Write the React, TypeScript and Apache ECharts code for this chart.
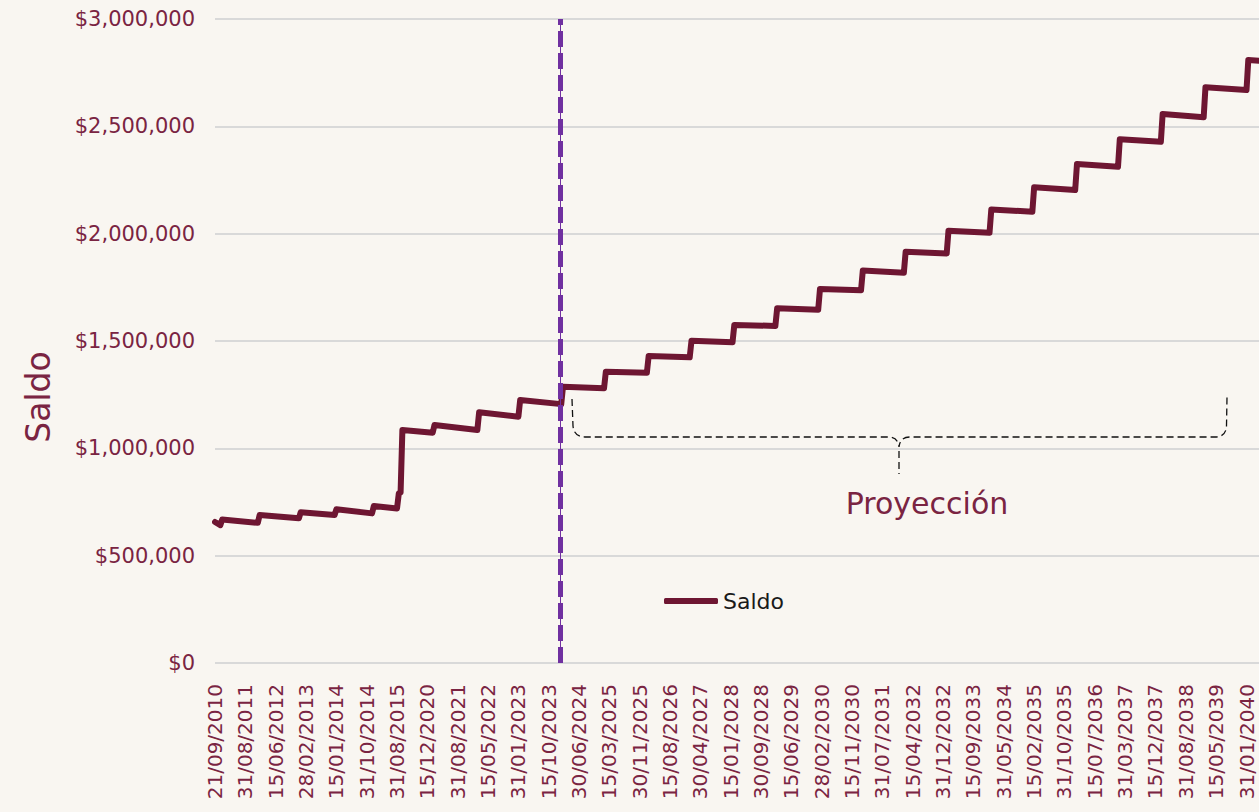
import React, { useEffect, useRef } from "react";
import * as echarts from "echarts";

// X tick labels (one every 17 data positions)
const tickLabels = [
  "21/09/2010", "31/08/2011", "15/06/2012", "28/02/2013", "15/01/2014", "31/10/2014",
  "31/08/2015", "15/12/2020", "31/08/2021", "15/05/2022", "31/01/2023", "15/10/2023",
  "30/06/2024", "15/03/2025", "30/11/2025", "15/08/2026", "30/04/2027", "15/01/2028",
  "30/09/2028", "15/06/2029", "28/02/2030", "15/11/2030", "31/07/2031", "15/04/2032",
  "31/12/2032", "15/09/2033", "31/05/2034", "15/02/2035", "31/10/2035", "15/07/2036",
  "31/03/2037", "15/12/2037", "31/08/2038", "15/05/2039", "31/01/2040",
];
const tickStep = 17;
const xMax = 585;

// Breakpoints of the "Saldo" line (position index, value)
const xIdx = [
  0, 3, 4, 24, 25, 47, 48, 67, 68, 88, 89, 102, 103, 104, 105, 122, 123, 147, 148, 170, 171, 194,
  195, 218, 219, 242, 243, 266, 267, 290, 291, 314, 315, 338, 339, 362, 363, 386, 387, 410,
  411, 434, 435, 458, 459, 482, 483, 506, 507, 530, 531, 554, 555, 578, 579, 585,
];
const saldo = [
  657000, 642000, 668000, 653000, 689000, 674000, 702000, 689000, 716000, 697000, 731000,
  720000, 790000, 795000, 1085000, 1073000, 1109000, 1085000, 1168000, 1147000, 1225000, 1206000,
  1287000, 1280000, 1357000, 1352000, 1430000, 1424000, 1501000, 1494000, 1575000, 1570000,
  1652000, 1646000, 1742000, 1736000, 1828000, 1818000, 1916000, 1908000, 2014000, 2004000,
  2113000, 2102000, 2216000, 2203000, 2324000, 2312000, 2440000, 2428000, 2557000, 2542000,
  2682000, 2669000, 2809000, 2806000,
];
const projectionStart = 193.5;

const yMax = 3000000;
const yInterval = 500000;

const BRACE_D =
  "M572,399 L573,426 Q574,437 585,437 L888,437 Q898,437 899,447 Q900,437 910,437 L1215,437 Q1226,437 1226.5,426 L1227,397 M899,451 L899,474";

const FONT = "DejaVu Sans";
const MAROON = "#6e1632";
const TEXT_MAROON = "#7a2442";

let braceRegistered = false;

export default function App() {
  const ref = useRef<HTMLDivElement>(null);

  useEffect(() => {
    if (!braceRegistered) {
      echarts.graphic.registerShape("brace", echarts.graphic.extendPath(BRACE_D, {}));
      braceRegistered = true;
    }
    const chart = echarts.init(ref.current!, null, { renderer: "svg" });
    const data = xIdx.map((x, i) => [x, saldo[i]]);
    chart.setOption({
      animation: false,
      backgroundColor: "#f9f6f1",
      grid: { left: 215, right: 0, top: 19, bottom: 149 },
      legend: {
        data: [{ name: "Saldo", icon: "roundRect" }],
        left: 664,
        top: 590,
        padding: 0,
        itemWidth: 54,
        itemHeight: 6,
        itemStyle: { color: MAROON },
        textStyle: { fontSize: 22, color: "#1a1a1a", fontFamily: FONT, padding: [0, 0, 0, 0] },
      },
      xAxis: {
        type: "value",
        min: 0,
        max: xMax,
        interval: tickStep,
        axisLine: { show: false },
        axisTick: { show: false },
        splitLine: { show: false },
        axisLabel: {
          rotate: 90,
          margin: 21,
          fontSize: 20,
          color: TEXT_MAROON,
          fontFamily: FONT,
          showMaxLabel: false,
          formatter: (v: number) => {
            const k = v / tickStep;
            return Number.isInteger(k) && tickLabels[k] ? tickLabels[k] : "";
          },
        },
      },
      yAxis: {
        type: "value",
        min: 0,
        max: yMax,
        interval: yInterval,
        axisLine: { show: false },
        axisTick: { show: false },
        splitLine: { lineStyle: { color: "#d9d9d9", width: 2 } },
        axisLabel: {
          margin: 20,
          fontSize: 21,
          color: TEXT_MAROON,
          fontFamily: FONT,
          formatter: (v: number) => "$" + v.toLocaleString("en-US"),
        },
      },
      series: [
        {
          name: "Saldo",
          type: "line",
          data,
          symbol: "none",
          lineStyle: { color: MAROON, width: 6, cap: "round", join: "round" },
          itemStyle: { color: MAROON },
          z: 3,
          markLine: {
            silent: true,
            symbol: ["none", "none"],
            label: { show: false },
            z: 4,
            data: [
              { xAxis: projectionStart, lineStyle: { color: "#7030a0", width: 1, type: "solid" } },
              { xAxis: projectionStart, lineStyle: { color: "#7030a0", width: 5, type: [16, 6] } },
            ],
          },
        },
      ],
      graphic: [
        {
          type: "brace",
          x: 0,
          y: 0,
          silent: true,
          style: { stroke: "#111", fill: "none", lineWidth: 1.3, lineDash: [7, 4] },
        },
        {
          type: "text",
          x: 927,
          y: 503,
          silent: true,
          style: {
            text: "Proyección",
            fontSize: 30,
            fontFamily: FONT,
            fill: TEXT_MAROON,
            align: "center",
            verticalAlign: "middle",
          },
        },
        {
          type: "text",
          x: 38,
          y: 397,
          rotation: Math.PI / 2,
          silent: true,
          style: {
            text: "Saldo",
            fontSize: 33,
            fontFamily: FONT,
            fill: TEXT_MAROON,
            align: "center",
            verticalAlign: "middle",
          },
        },
      ],
    });
    return () => chart.dispose();
  }, []);

  return (
    <div
      ref={ref}
      style={{ position: "fixed", left: 0, top: 0, width: 1259, height: 812, background: "#f9f6f1" }}
    />
  );
}
